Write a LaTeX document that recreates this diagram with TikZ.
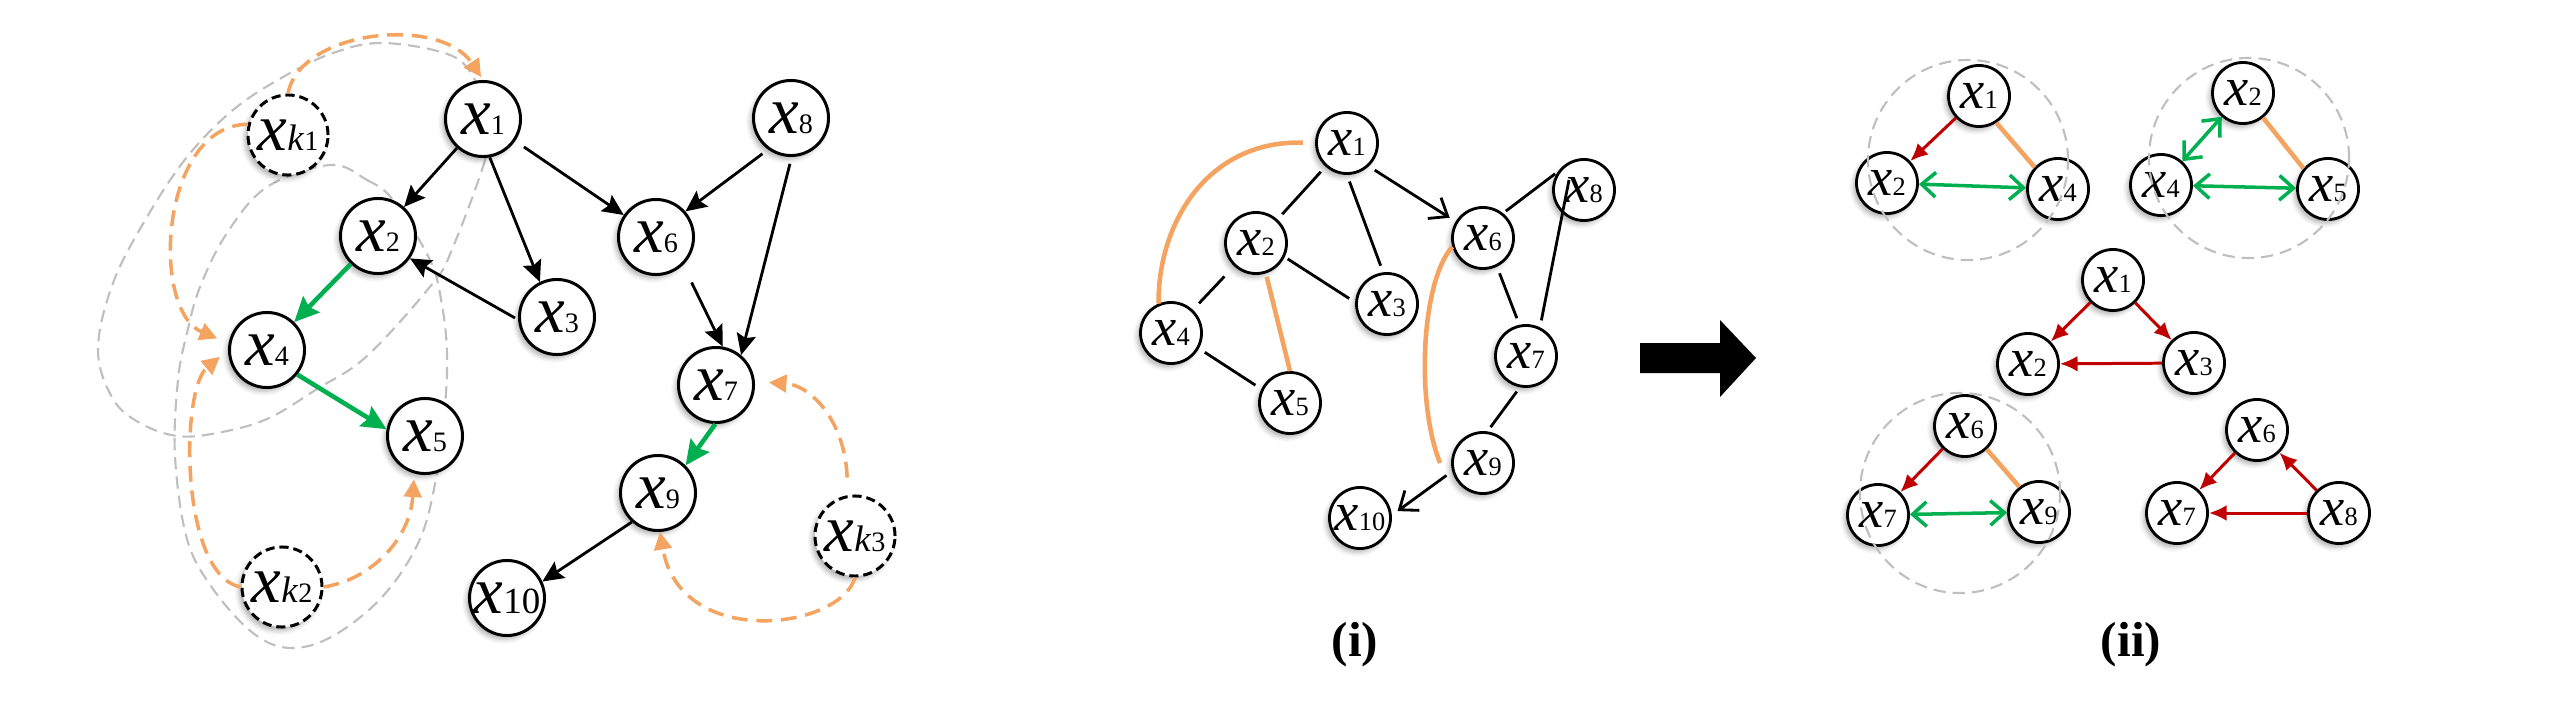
\documentclass[tikz,border=0pt]{standalone}
\usepackage{fontspec}
\setmainfont{Liberation Serif}
\usetikzlibrary{arrows.meta,shadows.blur}

\definecolor{cgreen}{RGB}{0,176,80}
\definecolor{cred}{RGB}{192,0,0}
\definecolor{corange}{RGB}{244,164,96}
\definecolor{cgray}{RGB}{191,191,191}

% variable labels
\newcommand{\vx}[2][8pt]{{\fontsize{19pt}{19pt}\selectfont\textit{x}}{\fontsize{#1}{#1}\selectfont #2}}
\newcommand{\vxk}[1]{{\fontsize{19pt}{19pt}\selectfont\textit{x}}{\fontsize{10.5pt}{10.5pt}\selectfont\textit{k}}{\fontsize{8pt}{8pt}\selectfont #1}}
\newcommand{\sx}[1]{{\fontsize{15.5pt}{15.5pt}\selectfont\textit{x}}{\fontsize{7.5pt}{7.5pt}\selectfont #1}}

\tikzset{
  var/.style={circle, draw, line width=0.85pt, fill=white, inner sep=0pt, minimum size=0.75cm,
    blur shadow={shadow xshift=-0.9pt, shadow yshift=-1.1pt, shadow blur radius=1.3pt, shadow opacity=30}},
  latent/.style={var, dash pattern=on 2.6pt off 1.4pt, minimum size=0.8cm},
  svar/.style={var, line width=0.8pt, minimum size=0.61cm},
  cause/.style={line width=0.8pt, -{Stealth[length=6pt,width=5.5pt,inset=1pt]}},
  gcause/.style={draw=cgreen, line width=1.3pt, -{Stealth[length=7pt,width=6.5pt,inset=1pt]}},
  lcause/.style={draw=corange, line width=1pt, dash pattern=on 4.5pt off 2.5pt, -{Triangle[length=5pt,width=5pt]}},
  blob/.style={draw=cgray, line width=0.6pt, dash pattern=on 3.5pt off 2pt},
  edge/.style={line width=0.8pt, shorten <=2pt, shorten >=2pt},
  oedge/.style={draw=corange, line width=1.3pt},
  rcause/.style={draw=cred, line width=0.85pt, -{Latex[length=5pt,width=4.5pt]}},
  gboth/.style={draw=cgreen, line width=1pt, {Straight Barb[length=4pt,width=7pt]}-{Straight Barb[length=4pt,width=7pt]}},
  ring/.style={draw=cgray, line width=0.6pt, dash pattern=on 3.5pt off 2pt}
}

\begin{document}
\begin{tikzpicture}[x=0.01cm, y=-0.01cm]
\useasboundingbox (0,0) rectangle (2560,712);

% Left: groups of variables
\draw[blob] plot[smooth cycle, tension=0.6] coordinates {(490,118) (485,160) (453,247) (433,283) (367,356) (317,389) (267,419) (217,433) (177,436) (140,423) (113,399) (98,350) (113,283) (147,217) (187,157) (233,110) (283,77) (333,53) (383,43) (450,55) (475,80)};
\draw[blob] plot[smooth cycle, tension=0.6] coordinates {(330,165) (367,180) (393,200) (430,260) (442,305) (447,353) (445,406) (437,473) (420,539) (383,596) (333,636) (290,648) (253,633) (213,589) (187,539) (175,456) (178,380) (187,333) (200,287) (227,233) (267,187)};

% Left: observed and latent variables
\node[var] (a1) at (483,119) {\vx{1}};
\node[var] (a2) at (378,236) {\vx{2}};
\node[var] (a3) at (557,317) {\vx{3}};
\node[var] (a4) at (267,350) {\vx{4}};
\node[var] (a5) at (425,436) {\vx{5}};
\node[var] (a6) at (656,237) {\vx{6}};
\node[var] (a7) at (716,385) {\vx{7}};
\node[var] (a8) at (791,118) {\vx{8}};
\node[var] (a9) at (658,493) {\vx{9}};
\node[var] (a10) at (507,598) {\vx[10.5pt]{10}};
\node[latent] (ak1) at (288,135) {\vxk{1}};
\node[latent] (ak2) at (282,587) {\vxk{2}};
\node[latent] (ak3) at (855,536) {\vxk{3}};

% Left: causal edges
\draw[cause] (a1) -- (a2);
\draw[cause] (a1.-80) -- (a3.116);
\draw[cause, shorten <=3pt] (a1) -- (a6);
\draw[cause, shorten <=2pt] (a8.-126) -- (a6.41);
\draw[cause, shorten <=2pt] (a8.-89) -- (a7.50);
\draw[cause, shorten <=5.5pt] (a6.-46) -- (a7.80);
\draw[cause, shorten <=1pt] (a3.184) -- (a2.-35);
\draw[gcause] (a2) -- (a4);
\draw[gcause] (a4.-39) -- (a5.170);
\draw[gcause] (a7.-91) -- (a9.45);
\draw[cause] (a9.-132) -- (a10.25);

% Left: latent confounders
\draw[lcause, shorten >=1pt] (ak1.north) .. controls (300,30) and (440,15) .. (a1.north);
\draw[lcause, shorten >=3.5pt] (ak1.165) .. controls (160,125) and (150,310) .. (a4.170);
\draw[lcause, shorten >=3pt] (ak2.west) .. controls (180,575) and (180,390) .. (a4.180);
\draw[lcause, shorten >=1.7pt] (ak2.east) .. controls (370,580) and (410,540) .. (a5.-106);
\draw[lcause] (ak3.south) .. controls (840,630) and (680,650) .. (a9.-87);
\draw[lcause, shorten <=5pt, shorten >=4pt] (ak3.100) .. controls (845,420) and (810,385) .. (a7.5);

% Middle: learned graph (i)
\coordinate (m8in) at (1569,180);
\coordinate (m9o) at (1440,463);
\node[svar] (m1) at (1347,143) {\sx{1}};
\node[svar] (m2) at (1256,243) {\sx{2}};
\node[svar] (m3) at (1387,304) {\sx{3}};
\node[svar] (m4) at (1171,333) {\sx{4}};
\node[svar] (m5) at (1290,403) {\sx{5}};
\node[svar] (m6) at (1483,238) {\sx{6}};
\node[svar] (m7) at (1526,356) {\sx{7}};
\node[svar] (m8) at (1584,190) {\sx{8}};
\node[svar] (m9) at (1483,463) {\sx{9}};
\node[svar] (m10) at (1360,518) {\sx{10}};

\draw[edge] (m1) -- (m2);
\draw[edge] (m1.-90) -- (m3.97);
\draw[edge, -{Straight Barb[length=4.5pt,width=7pt]}] (m1.-47) -- (m6.149);
\draw[edge, shorten <=1pt] (m2.-26) -- (m3.177);
\draw[edge, shorten <=4pt, shorten >=2.5pt] (m2) -- (m4);
\draw[edge] (m4.-29) -- (m5.154);
\draw[edge, shorten <=1pt, shorten >=1pt] (m6.51) -- (m8.145);
\draw[edge] (m6.-64) -- (m7.102);
\draw[edge, shorten >=0pt] (m7.64) -- (m8in);
\draw[edge, shorten <=1.5pt, shorten >=1.5pt] (m7.-101) -- (m9.82);
\draw[edge, -{Straight Barb[length=4.5pt,width=7pt]}] (m9.195) -- (m10.5);

\draw[oedge, shorten <=3.5pt] (m1.west) .. controls (1210,140) and (1158,220) .. (m4.113);
\draw[oedge, shorten <=1pt] (m2.-72) -- (m5.north);
\draw[oedge] (m6.196) .. controls (1422,280) and (1415,400) .. (m9o);

\node[font=\bfseries\fontsize{14pt}{14pt}\selectfont] (lab1) at (1355,645) {(i)};

% Big arrow
\fill (1640,343) -- (1720,343) -- (1720,320) -- (1756,358) -- (1720,397) -- (1720,373) -- (1640,373) -- cycle;

% Right: local structures (ii)
\node[svar] (p1) at (1979,96) {\sx{1}};
\node[svar] (p2) at (1887,183) {\sx{2}};
\node[svar] (p4) at (2058,189) {\sx{4}};
\draw[rcause] (p1) -- (p2);
\draw[gboth] (p2) -- (p4);
\draw[oedge] (p1.-57) -- (p4.137);

\node[svar] (q2) at (2243,93) {\sx{2}};
\node[svar] (q4) at (2161,185) {\sx{4}};
\node[svar] (q5) at (2328,189) {\sx{5}};
\draw[gboth] (q2) -- (q4);
\draw[gboth] (q4) -- (q5);
\draw[oedge] (q2.-51) -- (q5.140);

\node[svar] (r1) at (2113,280) {\sx{1}};
\node[svar] (r2) at (2028,364) {\sx{2}};
\node[svar] (r3) at (2194,363) {\sx{3}};
\draw[rcause] (r1) -- (r2);
\draw[rcause] (r1) -- (r3);
\draw[rcause] (r3) -- (r2);

\node[svar] (s6) at (1965,426) {\sx{6}};
\node[svar] (s7) at (1878,515) {\sx{7}};
\node[svar] (s9) at (2039,512) {\sx{9}};
\draw[rcause] (s6) -- (s7);
\draw[gboth] (s7) -- (s9);
\draw[oedge] (s6.-47) -- (s9.128);

\node[svar] (t6) at (2257,430) {\sx{6}};
\node[svar] (t7) at (2177,513) {\sx{7}};
\node[svar] (t8) at (2339,513) {\sx{8}};
\draw[rcause] (t6) -- (t7);
\draw[rcause] (t8) -- (t6);
\draw[rcause] (t8) -- (t7);

% dashed rings
\draw[ring] (1968,160) circle[radius=1cm];
\draw[ring] (2249,158) circle[radius=1cm];
\draw[ring] (1960,493) circle[radius=1cm];

\node[font=\bfseries\fontsize{14pt}{14pt}\selectfont] (lab2) at (2131,645) {(ii)};
\end{tikzpicture}
\end{document}
